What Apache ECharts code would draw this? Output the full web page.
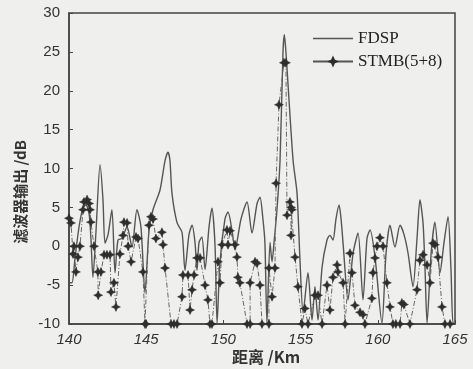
<!DOCTYPE html>
<html>
<head>
<meta charset="utf-8">
<script src="https://cdn.jsdelivr.net/npm/echarts@6/dist/echarts.min.js"></script>
<style>
  html, body { margin: 0; padding: 0; background: #efefed; }
  #chart { width: 473px; height: 369px; }
</style>
</head>
<body>
<div id="chart"></div>
<script>
// FDSP curve: distance (km) and output (dB)
const fdspX = [140.00, 140.19, 140.39, 140.65, 140.91, 141.10, 141.30, 141.42, 141.55, 141.75,
  142.01, 142.20, 142.33, 142.53, 142.78, 142.98, 143.17, 143.43, 143.76, 144.08,
  144.40, 144.66, 144.92, 145.18, 145.44, 145.89, 146.22, 146.41, 146.54, 146.67,
  147.00, 147.32, 147.51, 147.77, 147.97, 148.16, 148.29, 148.42, 148.61, 148.81,
  149.07, 149.26, 149.46, 149.59, 149.78, 150.10, 150.30, 150.56, 150.75, 151.14,
  151.53, 151.85, 152.18, 152.37, 152.56, 152.69, 152.82, 153.02, 153.15, 153.28,
  153.47, 153.67, 153.86, 153.95, 154.05, 154.51, 154.77, 154.96, 155.16, 155.48,
  155.74, 155.93, 156.13, 156.39, 156.71, 156.90, 157.10, 157.29, 157.49, 157.62,
  157.75, 158.07, 158.39, 158.72, 159.04, 159.30, 159.50, 159.82, 160.27, 160.53,
  160.79, 161.11, 161.44, 161.70, 161.96, 162.28, 162.54, 162.73, 162.93, 163.06,
  163.19, 163.45, 163.70, 164.03, 164.29, 164.55, 164.74, 164.87, 165.00];
const fdspY = [-4.7, -4.7, -1.5, 2.5, 5.0, 5.3, 4.2, 1.0, -4.0, 2.0,
  10.5, 6.0, 0.4, 1.5, 4.7, -3.4, 0.8, 1.0, 2.5, -0.1,
  4.7, 2.5, -6.0, 2.0, 4.7, 7.2, 11.0, 12.1, 11.0, 6.8,
  3.0, 1.8, -3.1, 1.5, 2.7, 0.5, -3.1, 0.5, 1.2, -3.0,
  2.5, 4.9, 0.0, -9.9, -2.0, 3.5, 4.4, 2.0, -0.5, 3.5,
  5.7, 1.7, 5.5, 6.3, 3.5, 0.4, -9.9, 0.5, -2.0, 0.5,
  4.7, 11.1, 25.0, 27.2, 25.0, 11.1, 6.8, -1.8, -8.6, -3.4,
  -9.5, -5.2, -9.5, -2.7, 0.8, 1.4, 0.8, 3.5, 5.3, 3.5,
  0.4, -6.9, -1.0, 1.7, -6.9, 1.0, 2.1, -1.4, -9.9, -1.0,
  2.7, -0.1, 2.7, 1.5, -0.9, -5.2, 1.0, 6.0, 3.0, -3.0,
  -9.9, -1.0, 3.1, -3.4, 0.5, 3.8, -3.0, -9.9, -9.9];

// STMB(5+8) markers
const stmbX = [140.00, 140.13, 140.26, 140.32, 140.45, 140.58, 140.71, 140.91, 140.97, 141.17,
  141.30, 141.36, 141.42, 141.62, 141.87, 141.89, 142.07, 142.27, 142.46, 142.66,
  142.72, 142.91, 143.04, 143.30, 143.50, 143.56, 143.76, 143.83, 144.02, 144.34,
  144.47, 144.79, 144.92, 144.99, 145.18, 145.31, 145.44, 145.63, 146.02, 146.09,
  146.22, 146.61, 146.80, 147.00, 147.32, 147.38, 147.71, 147.84, 147.97, 148.10,
  148.29, 148.49, 148.81, 149.00, 149.13, 149.26, 149.65, 149.78, 149.91, 150.23,
  150.30, 150.43, 150.75, 150.88, 150.94, 151.07, 151.53, 151.73, 151.73, 152.05,
  152.18, 152.37, 152.50, 152.95, 152.95, 153.15, 153.34, 153.41, 153.60, 153.92,
  154.05, 154.12, 154.31, 154.44, 154.38, 154.38, 154.64, 154.83, 155.09, 155.28,
  155.48, 155.93, 156.13, 156.39, 156.71, 156.90, 157.10, 157.36, 157.42, 157.75,
  157.88, 158.20, 158.33, 158.52, 158.85, 159.04, 159.17, 159.62, 159.69, 159.82,
  159.95, 160.14, 160.34, 160.59, 160.79, 160.98, 161.17, 161.44, 161.56, 161.69,
  162.08, 162.54, 162.73, 162.93, 163.19, 163.38, 163.58, 163.70, 163.90, 164.16,
  164.35, 164.68];
const stmbY = [3.6, 3.0, -1.0, 0.0, -3.3, -1.4, 0.0, 4.7, 5.7, 6.0,
  5.5, 4.7, 3.1, 0.0, -3.3, -6.3, -3.3, -1.1, -1.1, -1.1,
  -5.9, -4.7, -7.8, -1.0, 1.4, 3.1, 3.0, 0.0, -2.0, 1.2,
  1.0, -3.3, -10, -10, 2.7, 3.8, 3.5, 1.0, 1.8, 0.2,
  -2.8, -10, -10, -10, -6.5, -3.7, -3.7, -8.2, -5.6, -3.7,
  -1.5, -1.5, -5.0, -6.9, -10, -10, -2.0, -4.7, 0.2, 2.1,
  0.2, 2.0, 0.2, -1.4, -4.0, -4.7, -10, -10, -4.7, -2.0,
  -2.2, -5.0, -10, -10, -2.8, -6.5, -2.8, 8.1, 18.2, 23.6,
  23.6, 4.0, 5.7, 4.7, 1.4, 5.0, -1.4, -5.2, -10, -8.0,
  -10, -6.3, -6.3, -10, -5.0, -8.2, -4.0, -2.4, -3.3, -4.7,
  -10, -0.9, -3.4, -7.6, -8.5, -8.8, -10, -6.7, -3.4, -1.5,
  0.0, 1.1, 0.0, -4.7, -7.8, -10, -10, -10, -7.3, -7.5,
  -10, -5.6, -1.8, -1.1, -2.4, -4.7, 0.4, 0.2, -1.4, -7.8,
  -10, -10];

const xTicks = [140, 145, 150, 155, 160, 165];
const yTicks = [-10, -5, 0, 5, 10, 15, 20, 25, 30];

const starPath = 'path://M0,-5 L1.6,-1.6 L5,0 L1.6,1.6 L0,5 L-1.6,1.6 L-5,0 L-1.6,-1.6 Z';

const chart = echarts.init(document.getElementById('chart'));

const option = {
  backgroundColor: '#efefed',
  animation: false,
  grid: {
    left: 69,
    right: 18,
    top: 13,
    bottom: 45,
    show: true,
    borderColor: '#444',
    borderWidth: 1.5,
    backgroundColor: 'transparent'
  },
  legend: {
    orient: 'vertical',
    left: 307,
    top: 25,
    itemGap: 6,
    itemWidth: 40,
    itemHeight: 9,
    textStyle: {
      fontFamily: 'Liberation Serif',
      fontSize: 17,
      color: '#222'
    },
    data: [
      { name: 'FDSP', icon: 'path://M0,3.8 L40,3.8 L40,5.2 L0,5.2 Z', itemStyle: { color: '#555' } },
      { name: 'STMB(5+8)', lineStyle: { type: 'solid', color: '#555' } }
    ]
  },
  xAxis: {
    type: 'value',
    min: xTicks[0],
    max: xTicks[xTicks.length - 1],
    interval: 5,
    axisLine: { onZero: false, lineStyle: { color: '#444', width: 1.5 } },
    axisTick: { inside: true, length: 4, lineStyle: { color: '#444' } },
    axisLabel: {
      margin: 8,
      fontFamily: 'Liberation Sans',
      fontStyle: 'italic',
      fontSize: 15,
      color: '#333'
    },
    splitLine: { show: false }
  },
  yAxis: {
    type: 'value',
    min: yTicks[0],
    max: yTicks[yTicks.length - 1],
    interval: 5,
    axisLine: { show: true, onZero: false, lineStyle: { color: '#444', width: 1.5 } },
    axisTick: { show: true, inside: true, length: 4, lineStyle: { color: '#444' } },
    axisLabel: {
      margin: 9,
      fontFamily: 'Liberation Sans',
      fontSize: 15,
      color: '#333'
    },
    splitLine: { show: false }
  },
  graphic: [
    {
      type: 'text',
      x: 20,
      y: 192,
      rotation: Math.PI / 2,
      style: {
        text: '滤波器输出 /dB',
        font: 'bold 15px "Noto Sans CJK SC"',
        fill: '#333',
        align: 'center',
        verticalAlign: 'middle'
      }
    },
    {
      type: 'text',
      x: 266,
      y: 357,
      style: {
        text: '距离 /Km',
        font: 'bold 16px "Noto Sans CJK SC"',
        fill: '#333',
        align: 'center',
        verticalAlign: 'middle'
      }
    }
  ],
  series: [
    {
      name: 'FDSP',
      type: 'line',
      symbol: 'none',
      smooth: 0.25,
      data: fdspX.map((x, i) => [x, fdspY[i]]),
      lineStyle: { color: '#555', width: 1.4 },
      itemStyle: { color: '#555' },
      z: 2
    },
    {
      name: 'STMB(5+8)',
      type: 'line',
      symbol: starPath,
      symbolSize: 9,
      showAllSymbol: true,
      data: stmbX.map((x, i) => [x, stmbY[i]]),
      lineStyle: { color: '#666', width: 1, type: [5, 2, 1, 2] },
      itemStyle: { color: '#2e2e2e', borderColor: '#2e2e2e', borderWidth: 0.5 },
      z: 3
    }
  ]
};

chart.setOption(option);
</script>
</body>
</html>
